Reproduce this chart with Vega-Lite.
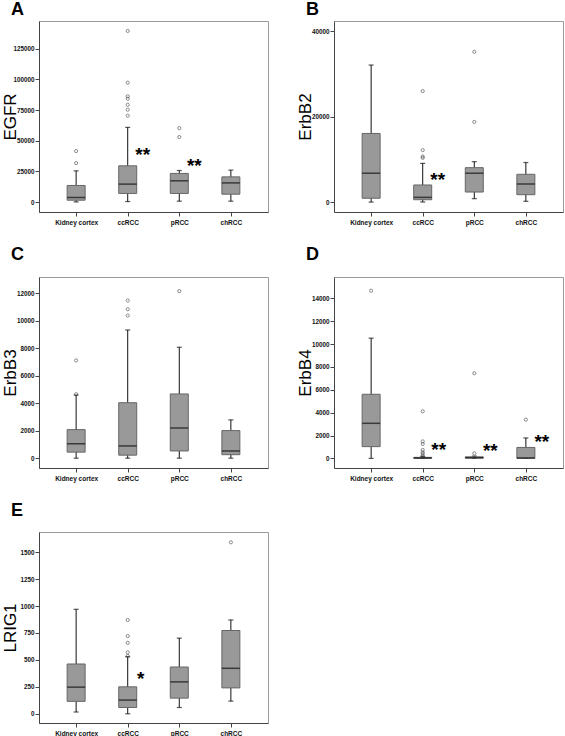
{
  "$schema": "https://vega.github.io/schema/vega-lite/v6.json",
  "background": "white",
  "padding": {"top": 0, "left": 0, "right": 0, "bottom": 0},
  "columns": 2,
  "spacing": {"row": 19, "column": 26},
  "config": {
    "view": {"stroke": "#9a9a9a", "strokeWidth": 1},
    "font": "Liberation Sans",
    "title": {"font": "Liberation Sans", "fontSize": 18, "fontWeight": "bold", "anchor": "start", "frame": "bounds", "color": "#000", "dx": 10},
    "axis": {"grid": false, "labelFont": "Liberation Sans", "labelFontWeight": "bold", "labelColor": "#111", "domainColor": "#444", "tickColor": "#444", "titleFont": "Liberation Sans", "titleFontWeight": "normal", "titleColor": "#000", "labelOverlap": false},
    "axisX": {"labelFontSize": 6.5, "tickSize": 4, "labelPadding": 3, "labelAngle": 0, "title": null},
    "axisY": {"labelFontSize": 6.3, "tickSize": 4, "labelPadding": 1, "titleFontSize": 17, "titleX": -24, "titleBaseline": "alphabetic", "format": "d"}
  },
  "datasets": {
    "boxes": [
      {"panel": "A", "group": "Kidney cortex", "lower": 200, "q1": 1600, "median": 3800, "q3": 13600, "upper": 25500},
      {"panel": "A", "group": "ccRCC", "lower": 500, "q1": 7100, "median": 14700, "q3": 29600, "upper": 60900},
      {"panel": "A", "group": "pRCC", "lower": 800, "q1": 7100, "median": 17400, "q3": 23400, "upper": 25800},
      {"panel": "A", "group": "chRCC", "lower": 800, "q1": 6500, "median": 15700, "q3": 20600, "upper": 26100},
      {"panel": "B", "group": "Kidney cortex", "lower": 50, "q1": 950, "median": 6800, "q3": 16100, "upper": 32100},
      {"panel": "B", "group": "ccRCC", "lower": 70, "q1": 600, "median": 1150, "q3": 4050, "upper": 9100},
      {"panel": "B", "group": "pRCC", "lower": 850, "q1": 2400, "median": 6800, "q3": 8100, "upper": 9500},
      {"panel": "B", "group": "chRCC", "lower": 230, "q1": 1780, "median": 4280, "q3": 6550, "upper": 9300},
      {"panel": "C", "group": "Kidney cortex", "lower": 0, "q1": 440, "median": 1050, "q3": 2080, "upper": 4600},
      {"panel": "C", "group": "ccRCC", "lower": 0, "q1": 220, "median": 890, "q3": 4040, "upper": 9340},
      {"panel": "C", "group": "pRCC", "lower": 0, "q1": 525, "median": 2200, "q3": 4680, "upper": 8080},
      {"panel": "C", "group": "chRCC", "lower": 0, "q1": 255, "median": 525, "q3": 2010, "upper": 2790},
      {"panel": "D", "group": "Kidney cortex", "lower": 0, "q1": 1030, "median": 3070, "q3": 5610, "upper": 10520},
      {"panel": "D", "group": "ccRCC", "lower": 0, "q1": 10, "median": 40, "q3": 90, "upper": 170},
      {"panel": "D", "group": "pRCC", "lower": 0, "q1": 20, "median": 70, "q3": 130, "upper": 200},
      {"panel": "D", "group": "chRCC", "lower": 0, "q1": 10, "median": 40, "q3": 960, "upper": 1790},
      {"panel": "E", "group": "Kidney cortex", "lower": 16, "q1": 115, "median": 247, "q3": 462, "upper": 970},
      {"panel": "E", "group": "ccRCC", "lower": 0, "q1": 58, "median": 127, "q3": 250, "upper": 530},
      {"panel": "E", "group": "pRCC", "lower": 58, "q1": 145, "median": 296, "q3": 434, "upper": 702},
      {"panel": "E", "group": "chRCC", "lower": 117, "q1": 240, "median": 422, "q3": 773, "upper": 871}
    ],
    "outliers": [
      {"panel": "A", "group": "Kidney cortex", "value": 41600},
      {"panel": "A", "group": "Kidney cortex", "value": 31800},
      {"panel": "A", "group": "ccRCC", "value": 139400},
      {"panel": "A", "group": "ccRCC", "value": 97300},
      {"panel": "A", "group": "ccRCC", "value": 86200},
      {"panel": "A", "group": "ccRCC", "value": 84200},
      {"panel": "A", "group": "ccRCC", "value": 79300},
      {"panel": "A", "group": "ccRCC", "value": 75300},
      {"panel": "A", "group": "ccRCC", "value": 70400},
      {"panel": "A", "group": "pRCC", "value": 60300},
      {"panel": "A", "group": "pRCC", "value": 53000},
      {"panel": "B", "group": "ccRCC", "value": 26000},
      {"panel": "B", "group": "ccRCC", "value": 12200},
      {"panel": "B", "group": "ccRCC", "value": 10700},
      {"panel": "B", "group": "ccRCC", "value": 10400},
      {"panel": "B", "group": "pRCC", "value": 35200},
      {"panel": "B", "group": "pRCC", "value": 18800},
      {"panel": "C", "group": "Kidney cortex", "value": 7120},
      {"panel": "C", "group": "Kidney cortex", "value": 4660},
      {"panel": "C", "group": "ccRCC", "value": 11490},
      {"panel": "C", "group": "ccRCC", "value": 10850},
      {"panel": "C", "group": "ccRCC", "value": 10390},
      {"panel": "C", "group": "pRCC", "value": 12170},
      {"panel": "D", "group": "Kidney cortex", "value": 14670},
      {"panel": "D", "group": "ccRCC", "value": 4120},
      {"panel": "D", "group": "ccRCC", "value": 1490},
      {"panel": "D", "group": "ccRCC", "value": 1260},
      {"panel": "D", "group": "ccRCC", "value": 740},
      {"panel": "D", "group": "ccRCC", "value": 530},
      {"panel": "D", "group": "ccRCC", "value": 390},
      {"panel": "D", "group": "ccRCC", "value": 210},
      {"panel": "D", "group": "pRCC", "value": 7450},
      {"panel": "D", "group": "pRCC", "value": 440},
      {"panel": "D", "group": "chRCC", "value": 3390},
      {"panel": "E", "group": "ccRCC", "value": 871},
      {"panel": "E", "group": "ccRCC", "value": 721},
      {"panel": "E", "group": "ccRCC", "value": 659},
      {"panel": "E", "group": "ccRCC", "value": 570},
      {"panel": "E", "group": "ccRCC", "value": 536},
      {"panel": "E", "group": "chRCC", "value": 1592}
    ],
    "stars": [
      {"panel": "A", "group": "ccRCC", "value": 38300, "label": "**"},
      {"panel": "A", "group": "pRCC", "value": 29400, "label": "**"},
      {"panel": "B", "group": "ccRCC", "value": 5200, "label": "**"},
      {"panel": "D", "group": "ccRCC", "value": 760, "label": "**"},
      {"panel": "D", "group": "pRCC", "value": 650, "label": "**"},
      {"panel": "D", "group": "chRCC", "value": 1460, "label": "**"},
      {"panel": "E", "group": "ccRCC", "value": 320, "label": "*"}
    ]
  },
  "concat": [
    {
      "title": {"text": "A", "offset": 2},
      "width": 229, "height": 191,
      "encoding": {"x": {"field": "group", "type": "nominal", "sort": null, "scale": {"type": "point", "domain": ["Kidney cortex", "ccRCC", "pRCC", "chRCC"], "padding": 0.72}}},
      "layer": [
        {"data": {"name": "boxes"}, "transform": [{"filter": "datum.panel === 'A'"}],
         "layer": [
          {"mark": {"type": "rule", "color": "#111", "strokeWidth": 1}, "encoding": {"y": {"field": "lower", "type": "quantitative", "title": "EGFR", "scale": {"domain": [-8000, 147500], "nice": false, "zero": false}, "axis": {"values": [0, 25000, 50000, 75000, 100000, 125000], "labelOverlap": false}}, "y2": {"field": "upper"}}},
          {"mark": {"type": "tick", "color": "#111", "size": 5, "thickness": 1.2}, "encoding": {"y": {"field": "lower", "type": "quantitative", "title": "EGFR", "scale": {"domain": [-8000, 147500], "nice": false, "zero": false}, "axis": {"values": [0, 25000, 50000, 75000, 100000, 125000], "labelOverlap": false}}}},
          {"mark": {"type": "tick", "color": "#111", "size": 5, "thickness": 1.2}, "encoding": {"y": {"field": "upper", "type": "quantitative", "title": "EGFR", "scale": {"domain": [-8000, 147500], "nice": false, "zero": false}, "axis": {"values": [0, 25000, 50000, 75000, 100000, 125000], "labelOverlap": false}}}},
          {"mark": {"type": "bar", "size": 18, "fill": "#999999", "stroke": "#666666", "strokeWidth": 1}, "encoding": {"y": {"field": "q1", "type": "quantitative", "title": "EGFR", "scale": {"domain": [-8000, 147500], "nice": false, "zero": false}, "axis": {"values": [0, 25000, 50000, 75000, 100000, 125000], "labelOverlap": false}}, "y2": {"field": "q3"}}},
          {"mark": {"type": "tick", "color": "#111", "size": 18, "thickness": 1.5}, "encoding": {"y": {"field": "median", "type": "quantitative", "title": "EGFR", "scale": {"domain": [-8000, 147500], "nice": false, "zero": false}, "axis": {"values": [0, 25000, 50000, 75000, 100000, 125000], "labelOverlap": false}}}}
         ]},
        {"data": {"name": "outliers"}, "transform": [{"filter": "datum.panel === 'A'"}],
         "mark": {"type": "point", "shape": "circle", "filled": false, "size": 10, "stroke": "#333", "strokeWidth": 0.8},
         "encoding": {"y": {"field": "value", "type": "quantitative", "title": "EGFR", "scale": {"domain": [-8000, 147500], "nice": false, "zero": false}, "axis": {"values": [0, 25000, 50000, 75000, 100000, 125000], "labelOverlap": false}}}},
        {"data": {"name": "stars"}, "transform": [{"filter": "datum.panel === 'A'"}],
         "mark": {"type": "text", "fontSize": 19, "fontWeight": "bold", "dx": 15, "dy": 0, "baseline": "middle", "align": "center", "color": "#000"},
         "encoding": {"y": {"field": "value", "type": "quantitative", "title": "EGFR", "scale": {"domain": [-8000, 147500], "nice": false, "zero": false}, "axis": {"values": [0, 25000, 50000, 75000, 100000, 125000], "labelOverlap": false}}, "text": {"field": "label"}}}
      ]
    },
    {
      "title": {"text": "B", "offset": 2},
      "width": 229, "height": 191,
      "encoding": {"x": {"field": "group", "type": "nominal", "sort": null, "scale": {"type": "point", "domain": ["Kidney cortex", "ccRCC", "pRCC", "chRCC"], "padding": 0.72}}},
      "layer": [
        {"data": {"name": "boxes"}, "transform": [{"filter": "datum.panel === 'B'"}],
         "layer": [
          {"mark": {"type": "rule", "color": "#111", "strokeWidth": 1}, "encoding": {"y": {"field": "lower", "type": "quantitative", "title": "ErbB2", "scale": {"domain": [-2270, 42400], "nice": false, "zero": false}, "axis": {"values": [0, 20000, 40000], "labelOverlap": false}}, "y2": {"field": "upper"}}},
          {"mark": {"type": "tick", "color": "#111", "size": 5, "thickness": 1.2}, "encoding": {"y": {"field": "lower", "type": "quantitative", "title": "ErbB2", "scale": {"domain": [-2270, 42400], "nice": false, "zero": false}, "axis": {"values": [0, 20000, 40000], "labelOverlap": false}}}},
          {"mark": {"type": "tick", "color": "#111", "size": 5, "thickness": 1.2}, "encoding": {"y": {"field": "upper", "type": "quantitative", "title": "ErbB2", "scale": {"domain": [-2270, 42400], "nice": false, "zero": false}, "axis": {"values": [0, 20000, 40000], "labelOverlap": false}}}},
          {"mark": {"type": "bar", "size": 18, "fill": "#999999", "stroke": "#666666", "strokeWidth": 1}, "encoding": {"y": {"field": "q1", "type": "quantitative", "title": "ErbB2", "scale": {"domain": [-2270, 42400], "nice": false, "zero": false}, "axis": {"values": [0, 20000, 40000], "labelOverlap": false}}, "y2": {"field": "q3"}}},
          {"mark": {"type": "tick", "color": "#111", "size": 18, "thickness": 1.5}, "encoding": {"y": {"field": "median", "type": "quantitative", "title": "ErbB2", "scale": {"domain": [-2270, 42400], "nice": false, "zero": false}, "axis": {"values": [0, 20000, 40000], "labelOverlap": false}}}}
         ]},
        {"data": {"name": "outliers"}, "transform": [{"filter": "datum.panel === 'B'"}],
         "mark": {"type": "point", "shape": "circle", "filled": false, "size": 10, "stroke": "#333", "strokeWidth": 0.8},
         "encoding": {"y": {"field": "value", "type": "quantitative", "title": "ErbB2", "scale": {"domain": [-2270, 42400], "nice": false, "zero": false}, "axis": {"values": [0, 20000, 40000], "labelOverlap": false}}}},
        {"data": {"name": "stars"}, "transform": [{"filter": "datum.panel === 'B'"}],
         "mark": {"type": "text", "fontSize": 19, "fontWeight": "bold", "dx": 15, "dy": 0, "baseline": "middle", "align": "center", "color": "#000"},
         "encoding": {"y": {"field": "value", "type": "quantitative", "title": "ErbB2", "scale": {"domain": [-2270, 42400], "nice": false, "zero": false}, "axis": {"values": [0, 20000, 40000], "labelOverlap": false}}, "text": {"field": "label"}}}
      ]
    },
    {
      "title": {"text": "C", "offset": 13},
      "width": 229, "height": 191,
      "encoding": {"x": {"field": "group", "type": "nominal", "sort": null, "scale": {"type": "point", "domain": ["Kidney cortex", "ccRCC", "pRCC", "chRCC"], "padding": 0.72}}},
      "layer": [
        {"data": {"name": "boxes"}, "transform": [{"filter": "datum.panel === 'C'"}],
         "layer": [
          {"mark": {"type": "rule", "color": "#111", "strokeWidth": 1}, "encoding": {"y": {"field": "lower", "type": "quantitative", "title": "ErbB3", "scale": {"domain": [-716, 13200], "nice": false, "zero": false}, "axis": {"values": [0, 2000, 4000, 6000, 8000, 10000, 12000], "labelOverlap": false}}, "y2": {"field": "upper"}}},
          {"mark": {"type": "tick", "color": "#111", "size": 5, "thickness": 1.2}, "encoding": {"y": {"field": "lower", "type": "quantitative", "title": "ErbB3", "scale": {"domain": [-716, 13200], "nice": false, "zero": false}, "axis": {"values": [0, 2000, 4000, 6000, 8000, 10000, 12000], "labelOverlap": false}}}},
          {"mark": {"type": "tick", "color": "#111", "size": 5, "thickness": 1.2}, "encoding": {"y": {"field": "upper", "type": "quantitative", "title": "ErbB3", "scale": {"domain": [-716, 13200], "nice": false, "zero": false}, "axis": {"values": [0, 2000, 4000, 6000, 8000, 10000, 12000], "labelOverlap": false}}}},
          {"mark": {"type": "bar", "size": 18, "fill": "#999999", "stroke": "#666666", "strokeWidth": 1}, "encoding": {"y": {"field": "q1", "type": "quantitative", "title": "ErbB3", "scale": {"domain": [-716, 13200], "nice": false, "zero": false}, "axis": {"values": [0, 2000, 4000, 6000, 8000, 10000, 12000], "labelOverlap": false}}, "y2": {"field": "q3"}}},
          {"mark": {"type": "tick", "color": "#111", "size": 18, "thickness": 1.5}, "encoding": {"y": {"field": "median", "type": "quantitative", "title": "ErbB3", "scale": {"domain": [-716, 13200], "nice": false, "zero": false}, "axis": {"values": [0, 2000, 4000, 6000, 8000, 10000, 12000], "labelOverlap": false}}}}
         ]},
        {"data": {"name": "outliers"}, "transform": [{"filter": "datum.panel === 'C'"}],
         "mark": {"type": "point", "shape": "circle", "filled": false, "size": 10, "stroke": "#333", "strokeWidth": 0.8},
         "encoding": {"y": {"field": "value", "type": "quantitative", "title": "ErbB3", "scale": {"domain": [-716, 13200], "nice": false, "zero": false}, "axis": {"values": [0, 2000, 4000, 6000, 8000, 10000, 12000], "labelOverlap": false}}}}
      ]
    },
    {
      "title": {"text": "D", "offset": 13},
      "width": 229, "height": 191,
      "encoding": {"x": {"field": "group", "type": "nominal", "sort": null, "scale": {"type": "point", "domain": ["Kidney cortex", "ccRCC", "pRCC", "chRCC"], "padding": 0.72}}},
      "layer": [
        {"data": {"name": "boxes"}, "transform": [{"filter": "datum.panel === 'D'"}],
         "layer": [
          {"mark": {"type": "rule", "color": "#111", "strokeWidth": 1}, "encoding": {"y": {"field": "lower", "type": "quantitative", "title": "ErbB4", "scale": {"domain": [-840, 15870], "nice": false, "zero": false}, "axis": {"values": [0, 2000, 4000, 6000, 8000, 10000, 12000, 14000], "labelOverlap": false}}, "y2": {"field": "upper"}}},
          {"mark": {"type": "tick", "color": "#111", "size": 5, "thickness": 1.2}, "encoding": {"y": {"field": "lower", "type": "quantitative", "title": "ErbB4", "scale": {"domain": [-840, 15870], "nice": false, "zero": false}, "axis": {"values": [0, 2000, 4000, 6000, 8000, 10000, 12000, 14000], "labelOverlap": false}}}},
          {"mark": {"type": "tick", "color": "#111", "size": 5, "thickness": 1.2}, "encoding": {"y": {"field": "upper", "type": "quantitative", "title": "ErbB4", "scale": {"domain": [-840, 15870], "nice": false, "zero": false}, "axis": {"values": [0, 2000, 4000, 6000, 8000, 10000, 12000, 14000], "labelOverlap": false}}}},
          {"mark": {"type": "bar", "size": 18, "fill": "#999999", "stroke": "#666666", "strokeWidth": 1}, "encoding": {"y": {"field": "q1", "type": "quantitative", "title": "ErbB4", "scale": {"domain": [-840, 15870], "nice": false, "zero": false}, "axis": {"values": [0, 2000, 4000, 6000, 8000, 10000, 12000, 14000], "labelOverlap": false}}, "y2": {"field": "q3"}}},
          {"mark": {"type": "tick", "color": "#111", "size": 18, "thickness": 1.5}, "encoding": {"y": {"field": "median", "type": "quantitative", "title": "ErbB4", "scale": {"domain": [-840, 15870], "nice": false, "zero": false}, "axis": {"values": [0, 2000, 4000, 6000, 8000, 10000, 12000, 14000], "labelOverlap": false}}}}
         ]},
        {"data": {"name": "outliers"}, "transform": [{"filter": "datum.panel === 'D'"}],
         "mark": {"type": "point", "shape": "circle", "filled": false, "size": 10, "stroke": "#333", "strokeWidth": 0.8},
         "encoding": {"y": {"field": "value", "type": "quantitative", "title": "ErbB4", "scale": {"domain": [-840, 15870], "nice": false, "zero": false}, "axis": {"values": [0, 2000, 4000, 6000, 8000, 10000, 12000, 14000], "labelOverlap": false}}}},
        {"data": {"name": "stars"}, "transform": [{"filter": "datum.panel === 'D'"}],
         "mark": {"type": "text", "fontSize": 19, "fontWeight": "bold", "dx": 16, "dy": 0, "baseline": "middle", "align": "center", "color": "#000"},
         "encoding": {"y": {"field": "value", "type": "quantitative", "title": "ErbB4", "scale": {"domain": [-840, 15870], "nice": false, "zero": false}, "axis": {"values": [0, 2000, 4000, 6000, 8000, 10000, 12000, 14000], "labelOverlap": false}}, "text": {"field": "label"}}}
      ]
    },
    {
      "title": {"text": "E", "offset": 12},
      "width": 229, "height": 191,
      "encoding": {"x": {"field": "group", "type": "nominal", "sort": null, "scale": {"type": "point", "domain": ["Kidney cortex", "ccRCC", "pRCC", "chRCC"], "padding": 0.72}}},
      "layer": [
        {"data": {"name": "boxes"}, "transform": [{"filter": "datum.panel === 'E'"}],
         "layer": [
          {"mark": {"type": "rule", "color": "#111", "strokeWidth": 1}, "encoding": {"y": {"field": "lower", "type": "quantitative", "title": "LRIG1", "scale": {"domain": [-86, 1688], "nice": false, "zero": false}, "axis": {"values": [0, 250, 500, 750, 1000, 1250, 1500], "labelOverlap": false}}, "y2": {"field": "upper"}}},
          {"mark": {"type": "tick", "color": "#111", "size": 5, "thickness": 1.2}, "encoding": {"y": {"field": "lower", "type": "quantitative", "title": "LRIG1", "scale": {"domain": [-86, 1688], "nice": false, "zero": false}, "axis": {"values": [0, 250, 500, 750, 1000, 1250, 1500], "labelOverlap": false}}}},
          {"mark": {"type": "tick", "color": "#111", "size": 5, "thickness": 1.2}, "encoding": {"y": {"field": "upper", "type": "quantitative", "title": "LRIG1", "scale": {"domain": [-86, 1688], "nice": false, "zero": false}, "axis": {"values": [0, 250, 500, 750, 1000, 1250, 1500], "labelOverlap": false}}}},
          {"mark": {"type": "bar", "size": 18, "fill": "#999999", "stroke": "#666666", "strokeWidth": 1}, "encoding": {"y": {"field": "q1", "type": "quantitative", "title": "LRIG1", "scale": {"domain": [-86, 1688], "nice": false, "zero": false}, "axis": {"values": [0, 250, 500, 750, 1000, 1250, 1500], "labelOverlap": false}}, "y2": {"field": "q3"}}},
          {"mark": {"type": "tick", "color": "#111", "size": 18, "thickness": 1.5}, "encoding": {"y": {"field": "median", "type": "quantitative", "title": "LRIG1", "scale": {"domain": [-86, 1688], "nice": false, "zero": false}, "axis": {"values": [0, 250, 500, 750, 1000, 1250, 1500], "labelOverlap": false}}}}
         ]},
        {"data": {"name": "outliers"}, "transform": [{"filter": "datum.panel === 'E'"}],
         "mark": {"type": "point", "shape": "circle", "filled": false, "size": 10, "stroke": "#333", "strokeWidth": 0.8},
         "encoding": {"y": {"field": "value", "type": "quantitative", "title": "LRIG1", "scale": {"domain": [-86, 1688], "nice": false, "zero": false}, "axis": {"values": [0, 250, 500, 750, 1000, 1250, 1500], "labelOverlap": false}}}},
        {"data": {"name": "stars"}, "transform": [{"filter": "datum.panel === 'E'"}],
         "mark": {"type": "text", "fontSize": 19, "fontWeight": "bold", "dx": 13, "dy": 0, "baseline": "middle", "align": "center", "color": "#000"},
         "encoding": {"y": {"field": "value", "type": "quantitative", "title": "LRIG1", "scale": {"domain": [-86, 1688], "nice": false, "zero": false}, "axis": {"values": [0, 250, 500, 750, 1000, 1250, 1500], "labelOverlap": false}}, "text": {"field": "label"}}}
      ]
    }
  ]
}
